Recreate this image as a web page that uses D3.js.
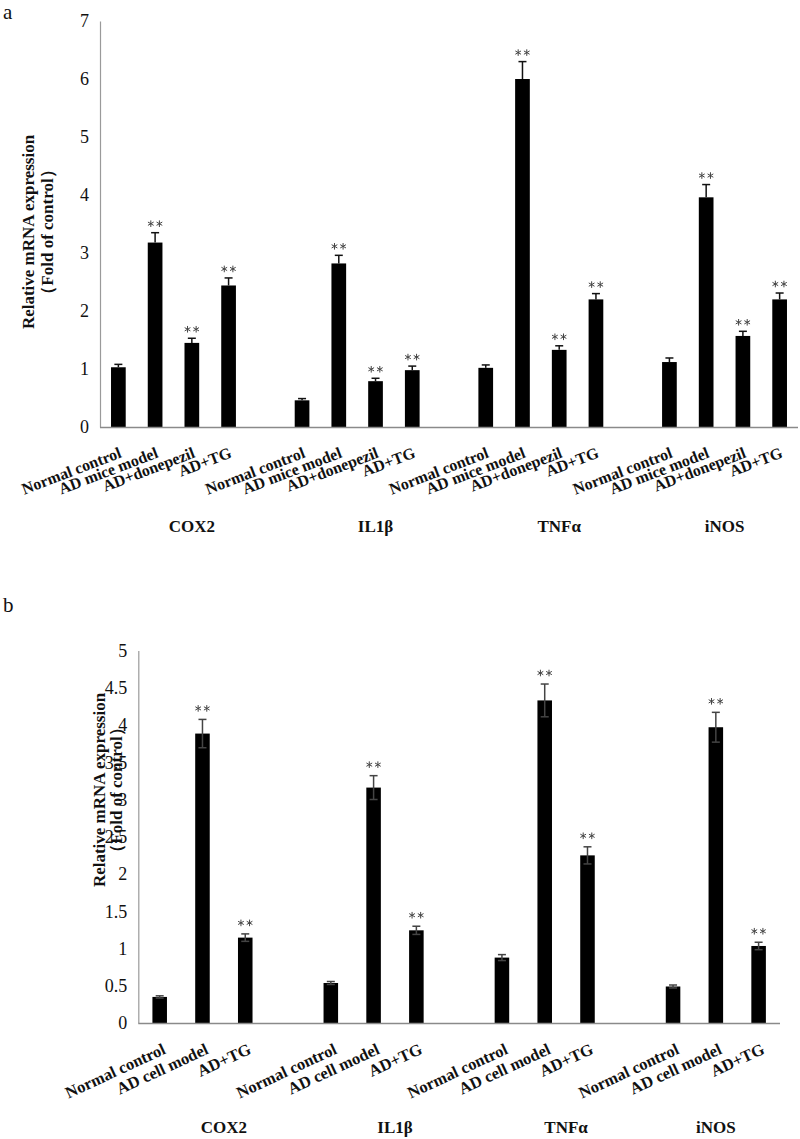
<!DOCTYPE html>
<html>
<head>
<meta charset="utf-8">
<script src="https://cdn.jsdelivr.net/npm/d3@7"></script>
<style>
  html, body { margin: 0; padding: 0; background: #fff; }
  svg { display: block; }
  text { font-family: "Liberation Serif", "Times New Roman", serif; }
</style>
</head>
<body>
<svg id="chart" width="800" height="1139"></svg>
<script>
// ---------- data ----------
const genes = ["COX2", "IL1β", "TNFα", "iNOS"];

// panel a
const groupsA = ["Normal control", "AD mice model", "AD+donepezil", "AD+TG"];
const valuesA = [
  [1.03, 3.18, 1.45, 2.44],
  [0.46, 2.82, 0.79, 0.98],
  [1.02, 6.00, 1.33, 2.20],
  [1.12, 3.96, 1.57, 2.20]
];
const errorsA = [
  [0.05, 0.17, 0.08, 0.13],
  [0.03, 0.14, 0.05, 0.07],
  [0.05, 0.30, 0.07, 0.10],
  [0.07, 0.22, 0.08, 0.11]
];
const starsA = [false, true, true, true];
const ticksA = [0, 1, 2, 3, 4, 5, 6, 7];

// panel b
const groupsB = ["Normal control", "AD cell model", "AD+TG"];
const valuesB = [
  [0.35, 3.885, 1.146],
  [0.537, 3.16, 1.244],
  [0.878, 4.33, 2.25],
  [0.49, 3.97, 1.034]
];
const errorsB = [
  [0.015, 0.19, 0.05],
  [0.02, 0.16, 0.055],
  [0.04, 0.22, 0.115],
  [0.02, 0.20, 0.05]
];
const starsB = [false, true, true];
const ticksB = [0, 0.5, 1, 1.5, 2, 2.5, 3, 3.5, 4, 4.5, 5];

const yTitle1 = "Relative mRNA expression";
const yTitle2 = "（Fold of control）";

// ---------- drawing ----------
const svg = d3.select("#chart");
const SERIF = '"Liberation Serif", "Times New Roman", serif';
const star = d3.symbol(d3.symbolAsterisk).size(30);

function panel(cfg) {
  const g = svg.append("g");
  const slots = [];
  const bars = [];
  const geneSlots = [];
  genes.forEach((gene, gi) => {
    const mine = [];
    cfg.groups.forEach((grp, ci) => {
      const key = gi + "_" + ci;
      slots.push(key); mine.push(key);
      bars.push({key, gene, grp, v: cfg.values[gi][ci], e: cfg.errors[gi][ci], star: cfg.stars[ci]});
    });
    if (gi < genes.length - 1) { const k = gi + "_blank"; slots.push(k); mine.push(k); }
    geneSlots.push({gene, keys: mine});
  });

  const x = d3.scaleBand().domain(slots).range([cfg.x0, cfg.x1])
    .paddingInner(cfg.pad).paddingOuter(cfg.pad / 2);
  const y = d3.scaleLinear().domain([0, cfg.ymax]).range([cfg.y0, cfg.y1]);
  const cxOf = k => x(k) + x.bandwidth() / 2;

  // y axis
  const ya = g.append("g").attr("transform", `translate(${cfg.x0},0)`)
    .call(d3.axisLeft(y).tickValues(cfg.ticks).tickSize(0).tickPadding(11)
      .tickFormat(d => d3.format("~g")(d)));
  ya.select(".domain").attr("stroke", "#9a9a9a").attr("stroke-width", 1.2);
  ya.selectAll("text").attr("font-size", 18).attr("fill", "#111").style("font-family", SERIF);

  // y title
  [[yTitle1, cfg.t1x], [yTitle2, cfg.t2x]].forEach(([t, tx]) => {
    g.append("text").attr("transform", `translate(${tx},${cfg.titleCY}) rotate(-90)`)
      .attr("text-anchor", "middle").attr("font-size", 17).attr("font-weight", "bold")
      .attr("fill", "#111").text(t);
  });

  // bars
  g.append("g").selectAll("rect").data(bars).join("rect")
    .attr("x", d => x(d.key)).attr("width", x.bandwidth())
    .attr("y", d => y(d.v)).attr("height", d => y(0) - y(d.v))
    .attr("fill", "#000");

  // error bars
  const cap = 4;
  const eg = g.append("g").attr("stroke", cfg.errColor).attr("stroke-width", 1.5).attr("fill", "none");
  bars.forEach(d => {
    const cx = cxOf(d.key);
    const lo = cfg.twoSided ? d.v - d.e : d.v;
    eg.append("line").attr("x1", cx).attr("x2", cx).attr("y1", y(lo)).attr("y2", y(d.v + d.e));
    eg.append("line").attr("x1", cx - cap).attr("x2", cx + cap).attr("y1", y(d.v + d.e)).attr("y2", y(d.v + d.e));
    if (cfg.twoSided) {
      eg.append("line").attr("x1", cx - cap).attr("x2", cx + cap).attr("y1", y(lo)).attr("y2", y(lo));
    }
  });

  // stars (two asterisks)
  const sg = g.append("g").attr("stroke", "#444").attr("stroke-width", 1).attr("fill", "none");
  bars.filter(d => d.star).forEach(d => {
    const cx = cxOf(d.key), sy = y(d.v + d.e) - cfg.starGap;
    [-4.3, 4.3].forEach(dx => {
      sg.append("path").attr("d", star()).attr("transform", `translate(${cx + dx},${sy})`);
    });
  });

  // x axis line
  g.append("g").attr("transform", `translate(0,${cfg.y0})`)
    .call(d3.axisBottom(x).tickSize(0).tickFormat(""))
    .call(a => a.select(".domain").attr("stroke", "#8a8a8a").attr("stroke-width", 1.3)
      .attr("d", `M${cfg.x0},0.5H${cfg.x1}`));

  // category labels (rotated)
  g.append("g").selectAll("text").data(bars).join("text")
    .attr("transform", d => `translate(${cxOf(d.key) + cfg.lblDx},${cfg.y0 + cfg.lblDy}) rotate(${-cfg.angle})`)
    .attr("text-anchor", "end").attr("font-size", cfg.lblSize).attr("font-weight", "bold")
    .attr("fill", "#111").text(d => d.grp);

  // gene labels
  geneSlots.forEach(gs => {
    g.append("text").attr("x", d3.mean(gs.keys, cxOf)).attr("y", cfg.geneY)
      .attr("text-anchor", "middle").attr("font-size", 17).attr("font-weight", "bold")
      .attr("fill", "#111").text(gs.gene);
  });
}

// panel letters
svg.append("text").attr("x", 3).attr("y", 19).attr("font-size", 21).attr("fill", "#111").text("a");
svg.append("text").attr("x", 3).attr("y", 612).attr("font-size", 21).attr("fill", "#111").text("b");

panel({
  groups: groupsA, values: valuesA, errors: errorsA, stars: starsA, ticks: ticksA,
  ymax: 7, x0: 100, x1: 798, y0: 427, y1: 21, pad: 0.6,
  t1x: 34, t2x: 53, titleCY: 232,
  errColor: "#111", twoSided: false, starGap: 9,
  lblDx: 4, lblDy: 30, angle: 21, lblSize: 16, geneY: 532
});

panel({
  groups: groupsB, values: valuesB, errors: errorsB, stars: starsB, ticks: ticksB,
  ymax: 5, x0: 138.3, x1: 780, y0: 1023, y1: 650.5, pad: 0.66,
  t1x: 105, t2x: 122, titleCY: 790,
  errColor: "#444", twoSided: true, starGap: 11,
  lblDx: 7, lblDy: 30, angle: 25, lblSize: 16.5, geneY: 1133
});
</script>
</body>
</html>
